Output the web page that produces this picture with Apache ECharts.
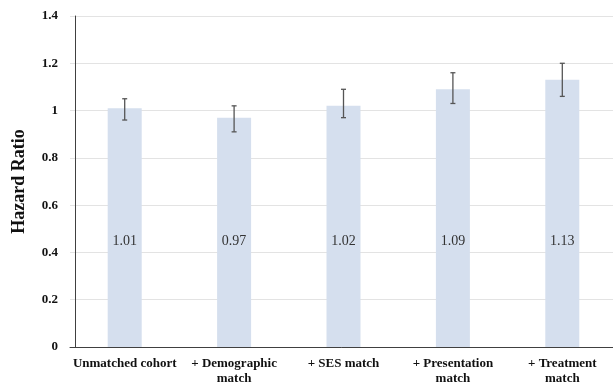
<!DOCTYPE html>
<html><head><meta charset="utf-8">
<script src="https://cdn.jsdelivr.net/npm/echarts@6/dist/echarts.min.js"></script>
<style>html,body{margin:0;padding:0;background:#fff}#c{width:613px;height:384px}</style>
</head><body><div id="c"></div>
<script>
const categories = ["Unmatched cohort", "+ Demographic\nmatch", "+ SES match", "+ Presentation\nmatch", "+ Treatment\nmatch"];
const hazardRatios = [1.01, 0.97, 1.02, 1.09, 1.13];
const ciLower = [0.96, 0.91, 0.97, 1.03, 1.06];
const ciUpper = [1.05, 1.02, 1.09, 1.16, 1.20];
const yTicks = [0, 0.2, 0.4, 0.6, 0.8, 1, 1.2, 1.4];

const errData = categories.map((c, i) => [i, ciLower[i], ciUpper[i]]);
const chart = echarts.init(document.getElementById('c'), null, {renderer: 'canvas'});
const serif = '"Liberation Serif", "Times New Roman", serif';
chart.setOption({
  animation: false,
  grid: {left: 70, right: -4, top: 16, bottom: 37, containLabel: false, outerBoundsMode: 'none'},
  xAxis: {
    type: 'category', data: categories,
    axisLine: {lineStyle: {color: '#404040', width: 1}},
    axisTick: {show: false},
    axisLabel: {color: '#111', fontFamily: serif, fontWeight: 'bold', fontSize: 13, lineHeight: 15, margin: 9, interval: 0}
  },
  yAxis: {
    type: 'value', min: 0, max: 1.4, interval: 0.2, offset: -5,
    name: 'Hazard Ratio', nameLocation: 'middle', nameGap: 47,
    nameTextStyle: {fontFamily: serif, fontWeight: 'bold', fontSize: 18, color: '#111'},
    axisLine: {show: true, lineStyle: {color: '#404040', width: 1}},
    axisTick: {show: false},
    splitLine: {lineStyle: {color: '#e3e3e3', width: 1}},
    axisLabel: {color: '#111', fontFamily: serif, fontWeight: 'bold', fontSize: 13, margin: 17,
      formatter: v => { const t = yTicks.find(x => Math.abs(x - v) < 1e-9); return t === undefined ? '' : String(t); }}
  },
  series: [
    {
      type: 'bar', data: hazardRatios, barWidth: 34,
      itemStyle: {color: '#d5dfee'},
      label: {show: true, position: 'insideBottom', distance: 99, color: '#333', fontFamily: serif, fontSize: 14,
        formatter: p => p.value.toFixed(2)}
    },
    {
      type: 'custom', data: errData, z: 5,
      renderItem: (params, api) => {
        const x = api.coord([api.value(0), api.value(1)])[0];
        const lo = api.coord([api.value(0), api.value(1)])[1];
        const hi = api.coord([api.value(0), api.value(2)])[1];
        const w = 2.5;
        const st = {stroke: '#555', lineWidth: 1.3};
        return {type: 'group', children: [
          {type: 'line', shape: {x1: x, y1: lo, x2: x, y2: hi}, style: st},
          {type: 'line', shape: {x1: x - w, y1: lo, x2: x + w, y2: lo}, style: st},
          {type: 'line', shape: {x1: x - w, y1: hi, x2: x + w, y2: hi}, style: st}
        ]};
      }
    }
  ]
});
</script></body></html>
